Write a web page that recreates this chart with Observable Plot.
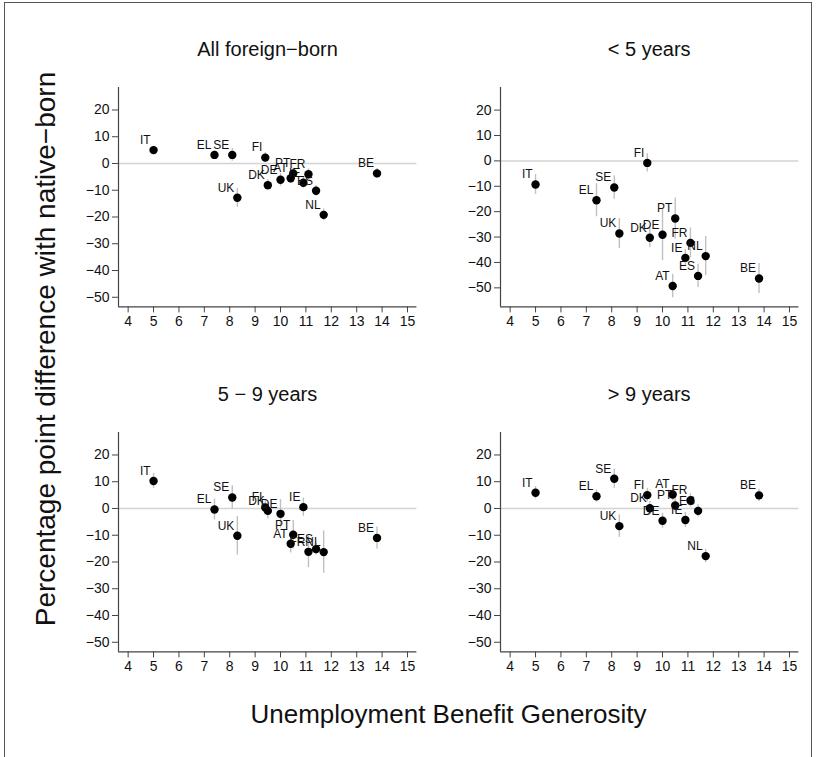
<!DOCTYPE html>
<html><head><meta charset="utf-8">
<script src="https://cdn.jsdelivr.net/npm/d3@7"></script>
<script src="https://cdn.jsdelivr.net/npm/@observablehq/plot@0.6"></script>
<style>
body{margin:0;background:#fff;font-family:"Liberation Sans",Arial,sans-serif;}
#wrap{position:relative;width:817px;height:757px;overflow:hidden;background:#fff;}
.border{position:absolute;left:4px;top:2px;width:808px;height:800px;border:1px solid #555;box-sizing:border-box;}
.panel{position:absolute;}
#overlay{position:absolute;left:0;top:0;}
</style></head><body><div id="wrap"><div class="border"></div></div>
<script>
const countries  = ["IT","EL","SE","UK","FI","DK","DE","AT","PT","IE","FR","ES","NL","BE"];
const generosity = [5.0, 7.4, 8.1, 8.3, 9.4, 9.5, 10.0, 10.4, 10.5, 10.9, 11.1, 11.4, 11.7, 13.8];

const allForeign   = [5.0, 3.2, 3.2, -12.8, 2.2, -8.1, -6.1, -5.5, -3.7, -7.2, -4.0, -10.2, -19.2, -3.7];
const allForeignCI = [1.5, 1.5, 2.4, 3.5, 1.8, 2.0, 2.4, 2.0, 2.0, 2.0, 2.0, 2.0, 2.2, 1.8];

const under5   = [-9.3, -15.5, -10.5, -28.6, -0.8, -30.3, -29.1, -49.3, -22.7, -38.2, -32.3, -45.3, -37.5, -46.3];
const under5CI = [3.9, 6.5, 4.6, 5.9, 3.6, 3.9, 10.2, 4.6, 8.1, 3.3, 5.9, 4.6, 7.7, 5.9];

const from5to9   = [10.3, -0.4, 4.1, -10.2, 0.4, -0.9, -2.0, -13.2, -9.8, 0.5, -16.2, -15.2, -16.3, -11.0];
const from5to9CI = [2.8, 3.9, 4.4, 7.2, 2.5, 3.0, 5.3, 3.4, 5.3, 3.4, 5.9, 2.2, 7.9, 4.1];

const over9   = [5.9, 4.6, 11.1, -6.6, 5.0, 0.1, -4.6, 5.2, 1.1, -4.3, 3.0, -0.9, -17.8, 4.9];
const over9CI = [2.3, 2.3, 3.6, 4.2, 2.5, 2.5, 2.8, 2.3, 2.5, 2.8, 2.5, 2.3, 2.5, 2.3];

const panelTitles = ["All foreign\u2212born", "< 5 years", "5 \u2212 9 years", "> 9 years"];
const xTicks = [4,5,6,7,8,9,10,11,12,13,14,15];
const yTicks = [-50,-40,-30,-20,-10,0,10,20];
const xTitle = "Unemployment Benefit Generosity";
const yTitle = "Percentage point difference with native\u2212born";

const xDomain = [3.62, 15.37];
const yDomainStd = [-53.6, 28.4];
const yDomainU5 = [-57.5, 28.9];

const ML = 60, MR = 15, MT = 20, MB = 40, PW = 298.4, PH = 219.4;
const FONT = "'Liberation Sans', Arial, sans-serif";

function panel(y, ci, yDomain) {
  const data = countries.map((c, i) => ({c, x: generosity[i], y: y[i], lo: y[i] - ci[i], hi: y[i] + ci[i]}));
  return Plot.plot({
    width: ML + PW + MR, height: MT + PH + MB,
    marginLeft: ML, marginRight: MR, marginTop: MT, marginBottom: MB,
    style: {fontFamily: FONT, fontSize: "14px", color: "#111", background: "transparent", overflow: "visible"},
    x: {domain: xDomain},
    y: {domain: yDomain},
    marks: [
      Plot.ruleY([0], {stroke: "#d3d3d3", strokeWidth: 1.5}),
      Plot.ruleX(data, {x: "x", y1: "lo", y2: "hi", stroke: "#c0c0c0", strokeWidth: 1.4}),
      Plot.dot(data, {x: "x", y: "y", r: 4.2, fill: "#000", stroke: "none"}),
      Plot.text(data, {x: "x", y: "y", text: "c", textAnchor: "end", dx: -3, dy: -10, fontSize: 12, fill: "#111"}),
      Plot.ruleX([xDomain[0]], {stroke: "#444", strokeWidth: 1.2}),
      Plot.ruleY([yDomain[0]], {stroke: "#444", strokeWidth: 1.2}),
      Plot.axisX({ticks: xTicks, tickSize: 6, tickPadding: 3, label: null, tickFormat: d => String(d), stroke: "#444", fontSize: 14, fill: "#111"}),
      Plot.axisY({ticks: yTicks, tickSize: 6, tickPadding: 3, label: null, stroke: "#444", fontSize: 14, fill: "#111"})
    ]
  });
}

const wrap = document.getElementById("wrap");
const specs = [
  {y: allForeign, ci: allForeignCI, dom: yDomainStd, left: 118.3, top: 87.3},
  {y: under5, ci: under5CI, dom: yDomainU5, left: 500, top: 87.3},
  {y: from5to9, ci: from5to9CI, dom: yDomainStd, left: 118.3, top: 432.3},
  {y: over9, ci: over9CI, dom: yDomainStd, left: 500, top: 432.3}
];
specs.forEach((s) => {
  const el = panel(s.y, s.ci, s.dom);
  const div = document.createElement("div");
  div.className = "panel";
  div.style.left = (s.left - ML) + "px";
  div.style.top = (s.top - MT) + "px";
  div.appendChild(el);
  wrap.appendChild(div);
});

// titles overlay
const ns = "http://www.w3.org/2000/svg";
const ov = document.createElementNS(ns, "svg");
ov.setAttribute("id", "overlay");
ov.setAttribute("width", 817); ov.setAttribute("height", 757);
ov.style.fontFamily = FONT;
function addText(txt, x, y, size, rot) {
  const t = document.createElementNS(ns, "text");
  t.setAttribute("x", x); t.setAttribute("y", y);
  t.setAttribute("text-anchor", "middle");
  t.setAttribute("font-size", size);
  t.setAttribute("fill", "#111");
  if (rot) t.setAttribute("transform", `rotate(-90 ${x} ${y})`);
  t.textContent = txt;
  ov.appendChild(t);
}
specs.forEach((s, i) => addText(panelTitles[i], s.left + PW / 2, s.top - 31, 20));
addText(xTitle, 448.5, 723, 26);
addText(yTitle, 55, 349, 28, true);
wrap.appendChild(ov);
</script>
</body></html>
